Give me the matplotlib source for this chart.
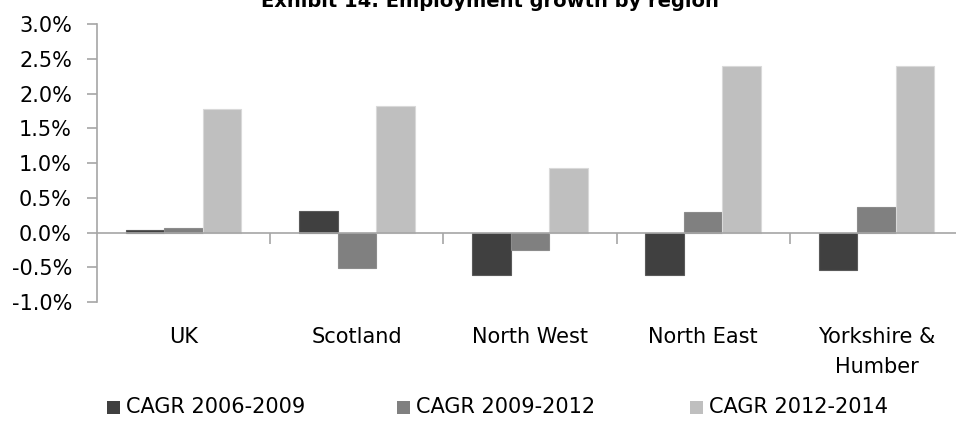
import matplotlib
matplotlib.use("Agg")
import matplotlib.pyplot as plt
import numpy as np
from matplotlib.patches import Rectangle
from matplotlib.ticker import FuncFormatter, MultipleLocator

plt.rcParams["font.family"] = ["DejaVu Sans"]

regions = ["UK", "Scotland", "North West", "North East", "Yorkshire &\nHumber"]
series_labels = ["CAGR 2006-2009", "CAGR 2009-2012", "CAGR 2012-2014"]
cagr_2006_2009 = [0.03, 0.31, -0.61, -0.61, -0.54]
cagr_2009_2012 = [0.06, -0.51, -0.25, 0.30, 0.37]
cagr_2012_2014 = [1.78, 1.82, 0.93, 2.39, 2.40]
title = "Exhibit 14: Employment growth by region"

series = [cagr_2006_2009, cagr_2009_2012, cagr_2012_2014]
face_colors = ["#404040", "#808080", "#bfbfbf"]
edge_colors = ["#5a5a5a", "#8c8c8c", "#d9d9d9"]
axis_color = "#a6a6a6"
font_size = 15

W, H = 956, 423
fig = plt.figure(figsize=(W / 100, H / 100), dpi=100)
# axes spans from the y axis to just past the right edge, 3.0% at top, -1.0% at bottom
ax = fig.add_axes([97 / W, 1 - 302 / H, (963 - 97) / W, (302 - 24) / H])

x = np.arange(len(regions))
width = 1 / 4.5  # three bars plus a 150% gap per category
for i, (vals, fc, ec) in enumerate(zip(series, face_colors, edge_colors)):
    ax.bar(x + (i - 1) * width, vals, width, color=fc, edgecolor=ec, linewidth=0.8, zorder=2)

ax.set_xlim(-0.5, len(regions) - 0.5)
ax.set_ylim(-1.0, 3.0)

for side in ("top", "right"):
    ax.spines[side].set_visible(False)
ax.spines["left"].set_color(axis_color)
ax.spines["left"].set_linewidth(1.2)
ax.spines["bottom"].set_position(("data", 0))
ax.spines["bottom"].set_color(axis_color)
ax.spines["bottom"].set_linewidth(1.2)
ax.spines["bottom"].set_zorder(3)

ax.yaxis.set_major_locator(MultipleLocator(0.5))
ax.yaxis.set_major_formatter(FuncFormatter(lambda v, _: f"{v:.1f}%"))
ax.tick_params(axis="y", direction="out", length=7, width=1.2, color=axis_color,
               pad=11, labelsize=font_size, labelcolor="black")

ax.set_xticks([])
ax.set_xticks(x[:-1] + 0.5, minor=True)
ax.tick_params(axis="x", which="minor", direction="out", length=8, width=1.2,
               color=axis_color, labelbottom=False)

for xi, name in zip(x, regions):
    ax.annotate(name, xy=(xi, 0), xycoords=("data", "axes fraction"),
                xytext=(0, -25), textcoords="offset pixels",
                ha="center", va="top", fontsize=font_size, linespacing=1.6)

fig.text(490 / W, 1 - 7 / H, title, ha="center", va="baseline",
         fontsize=font_size - 1, fontweight="bold")

# legend row along the bottom
legend_x = [107, 397, 690]
for lx, label, fc in zip(legend_x, series_labels, face_colors):
    fig.patches.append(Rectangle((lx / W, (H - 414) / H), 13 / W, 13 / H,
                                 transform=fig.transFigure, facecolor=fc, edgecolor="none"))
    fig.text((lx + 19) / W, 1 - 407 / H, label, ha="left", va="center", fontsize=font_size)

fig.savefig("out.png", dpi=100)
